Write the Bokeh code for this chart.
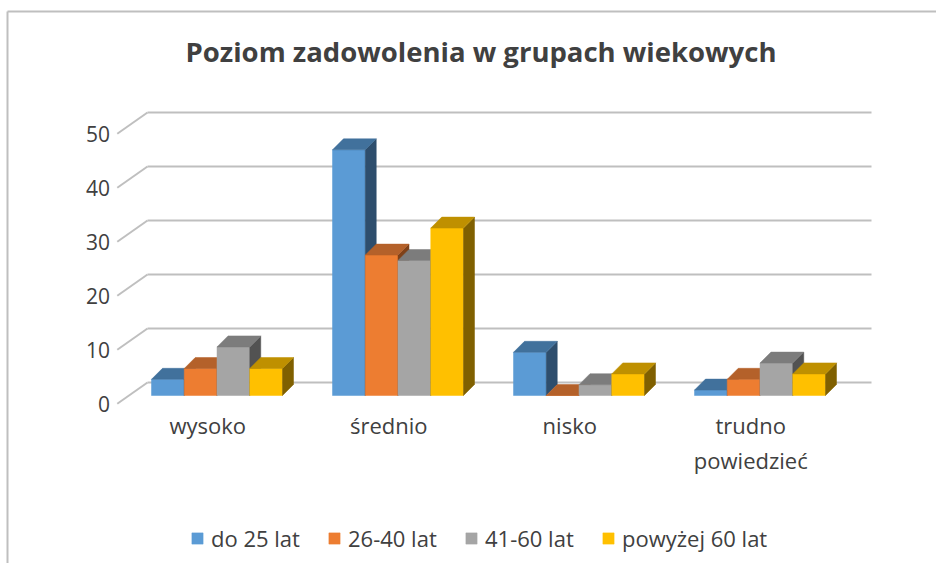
from bokeh.plotting import figure
from bokeh.models import Range1d, ColumnDataSource, Label, Legend, LegendItem
from bokeh.embed import file_html
from bokeh.resources import INLINE
from bokeh.core.properties import value

# ---------------- data ----------------
title_text = "Poziom zadowolenia w grupach wiekowych"
categories = ["wysoko", "średnio", "nisko", "trudno\npowiedzieć"]
series_names = ["do 25 lat", "26-40 lat", "41-60 lat", "powyżej 60 lat"]
do_25_lat = [3, 45.5, 8, 1]
lat_26_40 = [5, 26, 0, 3]
lat_41_60 = [9, 25, 2, 6]
powyzej_60_lat = [5, 31, 4, 4]
y_ticks = [0, 10, 20, 30, 40, 50]
series_values = [do_25_lat, lat_26_40, lat_41_60, powyzej_60_lat]

# ---------------- style ----------------
front_colors = ["#5B9BD5", "#ED7D31", "#A5A5A5", "#FFC000"]
top_colors = ["#41719C", "#B4612A", "#7C7C7C", "#BF9000"]
side_colors = ["#2E4E6D", "#7F4119", "#525252", "#806000"]
grid_color = "#BFBFBF"
text_color = "#404040"
FONT = "Open Sans"

W, H = 936, 563
PX_X = 181.0   # pixels per category band
PX_Y = 5.4     # pixels per value unit
x_start = -216.5 / PX_X
y_end = 395 / PX_Y
x_end = x_start + W / PX_X
y_start = y_end - H / PX_Y

p = figure(width=W, height=H, output_backend="svg", toolbar_location=None,
           x_axis_type=None, y_axis_type=None, min_border=0,
           x_range=Range1d(x_start, x_end), y_range=Range1d(y_start, y_end))
p.outline_line_color = None
p.grid.visible = False
p.background_fill_color = "white"

# 3D geometry (in data units)
bw = 32.75 / PX_X          # bar width
bdx, bdy = 11 / PX_X, 11 / PX_Y      # bar depth offset
back_dx, back_dy = 0.116, 13 / PX_Y  # back wall offset
front_dx, front_dy = -0.051, -8.3 / PX_Y  # front (axis) plane offset
n = len(categories)

# chart border (top and left edges visible)
bx = x_start + 7 / PX_X
by = y_end - 11 / PX_Y
p.segment(x0=[bx, bx], y0=[by, by], x1=[x_end, bx], y1=[by, y_start],
          line_color=grid_color, line_width=2)

# back wall gridlines + diagonals
gl_x0 = [-0.5 + back_dx] * len(y_ticks)
gl_x1 = [n - 0.5 + back_dx] * len(y_ticks)
gl_y = [t + back_dy for t in y_ticks]
p.segment(x0=gl_x0, y0=gl_y, x1=gl_x1, y1=gl_y, line_color=grid_color, line_width=2)
dg_x0 = [-0.5 + front_dx] * len(y_ticks)
dg_y0 = [t + front_dy for t in y_ticks]
p.segment(x0=dg_x0, y0=dg_y0, x1=gl_x0, y1=gl_y, line_color=grid_color, line_width=2)

# tick labels
p.text(x=[-0.5 + front_dx - 0.04] * len(y_ticks), y=dg_y0, text=[str(t) for t in y_ticks],
       text_align="right", text_baseline="middle", text_font=value(FONT),
       text_font_size="21px", text_color=text_color)

# bars
legend_items = []
for j, vals in enumerate(series_values):
    centers = [i + (j - 1.5) * bw for i in range(n)]
    lefts = [c - bw / 2 for c in centers]
    rights = [c + bw / 2 for c in centers]
    src = ColumnDataSource(dict(left=lefts, right=rights, top=vals, bottom=[0] * n))
    r = p.quad(left="left", right="right", top="top", bottom="bottom", source=src,
               fill_color=front_colors[j], line_color=front_colors[j], line_width=0.5)
    side_xs = [[rr, rr + bdx, rr + bdx, rr] for rr in rights]
    side_ys = [[0, bdy, v + bdy, v] for v in vals]
    p.patches(xs=side_xs, ys=side_ys, fill_color=side_colors[j],
              line_color=side_colors[j], line_width=0.5)
    top_xs = [[l, rr, rr + bdx, l + bdx] for l, rr in zip(lefts, rights)]
    top_ys = [[v, v, v + bdy, v + bdy] for v in vals]
    p.patches(xs=top_xs, ys=top_ys, fill_color=top_colors[j],
              line_color=top_colors[j], line_width=0.5)
    legend_items.append(LegendItem(label=series_names[j], renderers=[r]))

# category labels
cat_y = y_end - 409 / PX_Y
p.text(x=[i + front_dx for i in range(n)], y=[cat_y] * n, text=categories,
       text_align="center", text_baseline="top", text_font=value(FONT),
       text_font_size="22px", text_color=text_color, text_line_height=1.17)

# title
p.add_layout(Label(x=(480.5 - 216.5) / PX_X, y=y_end - 51 / PX_Y, text=title_text,
                   text_align="center", text_baseline="middle", text_font=FONT,
                   text_font_style="bold", text_font_size="27.5px", text_color=text_color))

legend = Legend(items=legend_items, orientation="horizontal", location=(190, 10),
                glyph_width=14, glyph_height=14, label_standoff=7, label_width=100,
                spacing=16, padding=0, margin=0, border_line_color=None,
                background_fill_alpha=0, label_text_font=FONT,
                label_text_font_size="22px", label_text_color=text_color)
p.add_layout(legend, "center")

open("out.html", "w").write(file_html(p, INLINE))
